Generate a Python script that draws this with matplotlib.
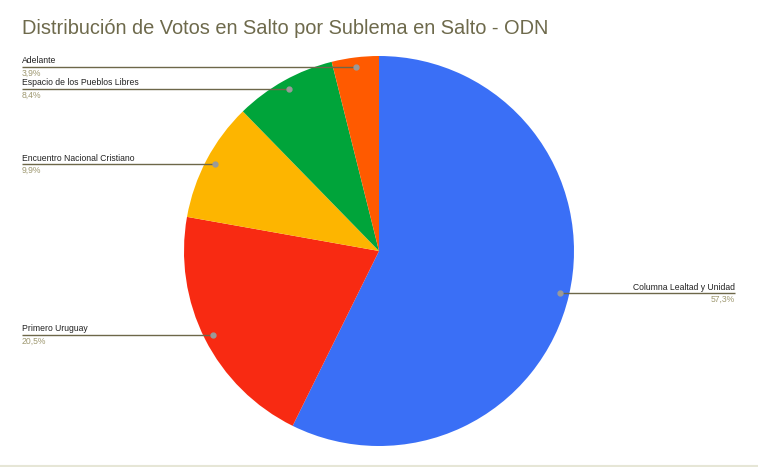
import matplotlib
matplotlib.use("Agg")
import matplotlib.pyplot as plt
import numpy as np

plt.rcParams['font.family'] = ['Liberation Sans', 'DejaVu Sans']

# Data
sublemas = ['Columna Lealtad y Unidad', 'Primero Uruguay', 'Encuentro Nacional Cristiano',
            'Espacio de los Pueblos Libres', 'Adelante']
percentages = [57.3, 20.5, 9.9, 8.4, 3.9]
colors = ['#3a6ff6', '#f82a12', '#fdb500', '#00a43a', '#ff5a00']

W, H = 758, 467
fig = plt.figure(figsize=(W / 100, H / 100), dpi=100)
ax = fig.add_axes([0, 0, 1, 1])

cx, cy, r = 379, H - 251, 195
wedges, _ = ax.pie(percentages, colors=colors, startangle=90, counterclock=False,
                   center=(cx, cy), radius=r, frame=True,
                   wedgeprops=dict(linewidth=0))
ax.set_xlim(0, W)
ax.set_ylim(0, H)
ax.set_aspect('equal')
ax.axis('off')

text_col = '#222222'
pct_col = '#9e9870'
line_col = '#6d6749'

for w, name, p in zip(wedges, sublemas, percentages):
    ang = np.deg2rad((w.theta1 + w.theta2) / 2)
    dx = cx + 0.952 * r * np.cos(ang)
    dy = cy + 0.952 * r * np.sin(ang)
    pct = f'{p:.1f}%'.replace('.', ',')
    if dx > cx:
        x_end = 735
        ha = 'right'
    else:
        x_end = 22
        ha = 'left'
    ax.plot([dx, x_end], [dy, dy], color=line_col, lw=1, solid_capstyle='butt', zorder=3)
    ax.plot([dx], [dy], 'o', color='#9a9a9a', ms=3.5, zorder=4)
    ax.text(x_end, dy + 1.5, name, ha=ha, va='bottom', fontsize=6.2, color=text_col)
    ax.text(x_end, dy - 2, pct, ha=ha, va='top', fontsize=6.2, color=pct_col)

fig.text(22 / W, 1 - 28 / H, 'Distribución de Votos en Salto por Sublema en Salto - ODN',
         ha='left', va='center', fontsize=14.4, color='#6e6a4c')

# bottom border
ax.plot([0, W], [0.8, 0.8], color='#e6e6d6', lw=1.5)

fig.savefig('out.png', dpi=100)
